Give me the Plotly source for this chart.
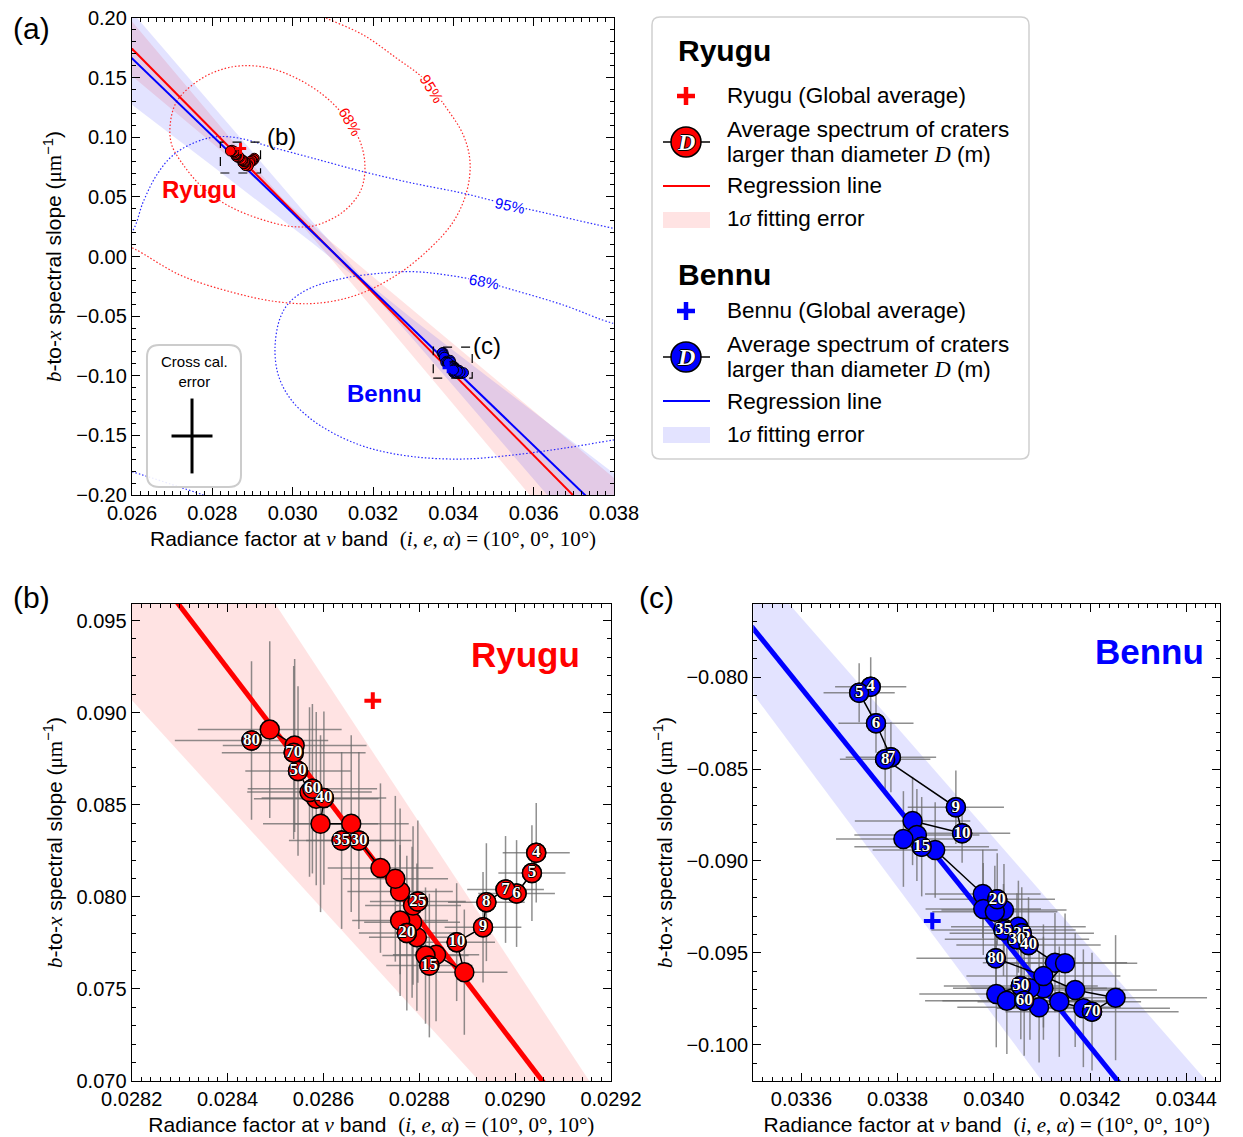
import plotly.graph_objects as go

W, H = 1243, 1137
SANS = "Liberation Sans, Arial, sans-serif"
SERIF = "Liberation Serif, Times New Roman, serif"

# ---------------- data ----------------
# Ryugu: average spectra of craters larger than D (panel b / a)
ryugu_label = ["4", "5", "6", "7", "8", "9", "10", "", "", "", "15", "", "", "", "20", "", "25", "", "", "",
               "30", "35", "", "", "40", "", "60", "", "50", "70", "", "", "80"]
ryugu_x = [0.029044, 0.029035, 0.029003, 0.028980, 0.028940, 0.028933, 0.028878, 0.028894, 0.028835, 0.028813,
           0.028821, 0.028795, 0.028785, 0.028760, 0.028774, 0.028787, 0.028797, 0.028760, 0.028750, 0.028719,
           0.028674, 0.028638, 0.028658, 0.028594, 0.028601, 0.028585, 0.028577, 0.028571, 0.028547, 0.028538,
           0.028540, 0.028488, 0.028450]
ryugu_y = [0.08239, 0.08129, 0.08018, 0.08040, 0.07971, 0.07835, 0.07754, 0.07591, 0.07685, 0.07681,
           0.07627, 0.07781, 0.07862, 0.07871, 0.07803, 0.07953, 0.07974, 0.08029, 0.08098, 0.08156,
           0.08306, 0.08306, 0.08397, 0.08397, 0.08536, 0.08533, 0.08587, 0.08569, 0.08683, 0.08783,
           0.08822, 0.08908, 0.08849]
ryugu_ex = [7e-5, 7e-5, 8e-5, 8e-5, 8e-5, 8e-5, 8e-5, 9e-5, 9e-5, 9e-5,
            9e-5, 1.0e-4, 1.0e-4, 1.0e-4, 1.0e-4, 1.0e-4, 1.0e-4, 1.1e-4, 1.1e-4, 1.1e-4,
            1.1e-4, 1.1e-4, 1.2e-4, 1.2e-4, 1.3e-4, 1.3e-4, 1.35e-4, 1.3e-4, 1.1e-4, 1.5e-4,
            1.5e-4, 1.5e-4, 1.6e-4]
ryugu_ey = [0.0027, 0.0026, 0.0029, 0.0029, 0.0032, 0.0030, 0.0032, 0.0034, 0.0036, 0.0037,
            0.0039, 0.0040, 0.0041, 0.0041, 0.0042, 0.0043, 0.0044, 0.0045, 0.0045, 0.0046,
            0.0048, 0.0048, 0.0048, 0.0048, 0.0047, 0.0047, 0.0046, 0.0046, 0.0046, 0.0047,
            0.0047, 0.0048, 0.0043]

# Bennu (panel c / a)
bennu_label = ["4", "5", "6", "7", "8", "9", "10", "", "", "", "15", "", "", "20", "", "", "", "", "25", "35",
               "30", "40", "", "", "", "", "50", "", "", "60", "", "", "", "70", "", "", "", "80"]
bennu_x = [0.033744, 0.033720, 0.033755, 0.033786, 0.033774, 0.033921, 0.033934, 0.033831, 0.033840, 0.033812,
           0.033850, 0.033878, 0.033977, 0.034007, 0.033978, 0.034021, 0.034002, 0.034051, 0.034058, 0.034020,
           0.034048, 0.034072, 0.034127, 0.034148, 0.034103, 0.034075, 0.034056, 0.034005, 0.034027, 0.034063,
           0.034094, 0.034136, 0.034186, 0.034204, 0.034253, 0.034169, 0.034103, 0.034004]
bennu_y = [-0.080527, -0.080853, -0.082516, -0.084364, -0.084473, -0.087082, -0.088495, -0.087826, -0.088587, -0.088804,
           -0.089223, -0.089402, -0.091793, -0.092082, -0.092609, -0.092663, -0.092755, -0.093571, -0.093930, -0.093750,
           -0.094255, -0.094565, -0.095527, -0.095560, -0.096919, -0.096919, -0.096794, -0.097228, -0.097593, -0.097593,
           -0.097951, -0.097647, -0.098006, -0.098190, -0.097430, -0.097011, -0.096250, -0.095288]
bennu_ex = [7.4e-5, 7.4e-5, 7.8e-5, 9.4e-5, 9.4e-5, 1.0e-4, 1.0e-4, 1.2e-4, 1.3e-4, 1.4e-4,
            1.4e-4, 1.3e-4, 1.2e-4, 1.2e-4, 1.2e-4, 1.3e-4, 1.3e-4, 1.4e-4, 1.5e-4, 1.5e-4,
            1.5e-4, 1.5e-4, 1.5e-4, 1.5e-4, 1.6e-4, 1.6e-4, 1.6e-4, 1.6e-4, 1.7e-4, 1.7e-4,
            1.7e-4, 1.7e-4, 1.8e-4, 1.8e-4, 1.9e-4, 1.7e-4, 1.6e-4, 1.65e-4]
bennu_ey = [0.0016, 0.0016, 0.0016, 0.0019, 0.0019, 0.0020, 0.0016, 0.0024, 0.0025, 0.0026,
            0.0027, 0.0026, 0.0024, 0.0025, 0.0025, 0.0025, 0.0025, 0.0025, 0.0025, 0.0025,
            0.0025, 0.0026, 0.0027, 0.0027, 0.0028, 0.0028, 0.0029, 0.0029, 0.0029, 0.0030,
            0.0030, 0.0030, 0.0032, 0.0032, 0.0034, 0.0031, 0.0028, 0.0020]

# global averages
ryugu_global_x, ryugu_global_y = [0.028703], [0.09065]
bennu_global_x, bennu_global_y = [0.033872], [-0.09326]

# regression lines (slope, intercept)
ryugu_slope, ryugu_intercept = -34.1, 1.06084
bennu_slope, bennu_intercept = -32.47, 1.01038

# 1-sigma fitting-error bands, panel (a)
ryugu_band_a_x = [0.0255, 0.0280, 0.0290, 0.0298, 0.0310, 0.0320, 0.0350, 0.0385]
ryugu_band_a_hi = [0.2171, 0.1170, 0.0771, 0.0467, 0.0112, -0.0170, -0.1015, -0.1998]
ryugu_band_a_lo = [0.1655, 0.0950, 0.0667, 0.0427, -0.0037, -0.0437, -0.1639, -0.3042]
bennu_band_a_x = [0.0255, 0.0280, 0.0305, 0.0318, 0.0330, 0.0350, 0.0385]
bennu_band_a_hi = [0.2246, 0.1267, 0.0290, -0.0202, -0.0529, -0.1046, -0.1948]
bennu_band_a_lo = [0.1402, 0.0758, 0.0111, -0.0242, -0.0694, -0.1475, -0.2846]
# bands in zoomed panels (b), (c)
ryugu_band_b_x = [0.0281, 0.0293]
ryugu_band_b_hi = [0.1117, 0.06426]
ryugu_band_b_lo = [0.09354, 0.0593]
bennu_band_c_x = [0.0334, 0.0346]
bennu_band_c_hi = [-0.07081, -0.10668]
bennu_band_c_lo = [-0.07743, -0.11948]

# probability contours (panel a)
ryugu_c68_x = [0.02695, 0.02711, 0.02761, 0.02819, 0.02877, 0.02944, 0.03010, 0.03076, 0.03126, 0.03168, 0.03180,
               0.03168, 0.03126, 0.03060, 0.03002, 0.02927, 0.02844, 0.02778, 0.02728, 0.02699, 0.02695]
ryugu_c68_y = [0.1103, 0.1298, 0.1466, 0.1564, 0.1600, 0.1578, 0.1494, 0.1354, 0.1187, 0.0963, 0.0740,
               0.0543, 0.0376, 0.0264, 0.0250, 0.0306, 0.0418, 0.0572, 0.0767, 0.0935, 0.1103]
ryugu_c95_x = [0.0302, 0.030847, 0.031758, 0.03259, 0.033252, 0.033835, 0.034248, 0.034415, 0.034332, 0.034000,
               0.033419, 0.03259, 0.031594, 0.030598, 0.029602, 0.02844, 0.027195, 0.026032, 0.0255]
ryugu_c95_y = [0.21, 0.19975, 0.18574, 0.1662, 0.1494, 0.12428, 0.10189, 0.0795, 0.0543, 0.02918,
               0.00688, -0.01551, -0.03229, -0.03924, -0.0379, -0.02952, -0.01551, 0.00688, 0.0140]
bennu_c68_x = [0.0385, 0.037983, 0.036738, 0.035493, 0.034746, 0.033835, 0.033003, 0.032174, 0.031261, 0.030432,
               0.029934, 0.029685, 0.02956, 0.029642, 0.029934, 0.030432, 0.031096, 0.031925, 0.033003, 0.034248,
               0.035493, 0.036738, 0.037983, 0.0385]
bennu_c68_y = [-0.0580, -0.05602, -0.04067, -0.02809, -0.02113, -0.01551, -0.01274, -0.01409, -0.01828, -0.02667,
               -0.0379, -0.05182, -0.07698, -0.09937, -0.11891, -0.13568, -0.14968, -0.16084, -0.16788, -0.16981,
               -0.16646, -0.16084, -0.15388, -0.1510]
bennu_c95_x = [0.0255, 0.026, 0.026281, 0.026615, 0.027028, 0.027611, 0.028109, 0.028689, 0.029436, 0.030514,
               0.031758, 0.033003, 0.034248, 0.035411, 0.036324, 0.037983, 0.0385]
bennu_c95_y = [0.0070, 0.0208, 0.04596, 0.06835, 0.08512, 0.09627, 0.10046, 0.09912, 0.09208, 0.08235,
               0.07111, 0.06139, 0.0530, 0.04319, 0.03623, 0.02365, 0.0205]
bennu_c95b_x = [0.0255, 0.026, 0.027775, 0.0282]
bennu_c95b_y = [-0.1760, -0.18046, -0.2, -0.2050]

# cross-calibration error (panel a inset)
cross_x, cross_y = [0.027494], [-0.1505]
cross_err_x, cross_err_y = 0.00051, 0.0314

# axis ranges
xa_range, ya_range = [0.026, 0.038], [-0.20, 0.20]
xb_range, yb_range = [0.0282, 0.0292], [0.0700, 0.0959]
xc_range, yc_range = [0.0335, 0.03447], [-0.10196, -0.07603]

RED = "#ff0000"
BLUE = "#0000ff"
RED_BAND = "rgba(255,0,0,0.11)"
BLUE_BAND = "rgba(0,0,255,0.11)"
ERR_COL = "rgba(105,105,105,0.75)"
OUTLINE = "-1px 0 0 #000, 1px 0 0 #000, 0 -1px 0 #000, 0 1px 0 #000"

fig = go.Figure()


def add(tr):
    fig.add_trace(tr)


def band(xs, hi, lo, color, xa, ya):
    add(go.Scatter(x=xs + xs[::-1], y=hi + lo[::-1], fill="toself", fillcolor=color,
                   line=dict(width=0), mode="lines", hoverinfo="skip", showlegend=False,
                   xaxis=xa, yaxis=ya))


def regline(slope, intercept, x0, x1, color, width, xa, ya):
    xs = [x0, x1]
    add(go.Scatter(x=xs, y=[intercept + slope * v for v in xs], mode="lines",
                   line=dict(color=color, width=width), showlegend=False, xaxis=xa, yaxis=ya))


def labels_only(lbl, xs, ys):
    keep = [i for i, s in enumerate(lbl) if s]
    return [lbl[i] for i in keep], [xs[i] for i in keep], [ys[i] for i in keep]


# ---------------- panel (a) ----------------
band(ryugu_band_a_x, ryugu_band_a_hi, ryugu_band_a_lo, RED_BAND, "x", "y")
band(bennu_band_a_x, bennu_band_a_hi, bennu_band_a_lo, BLUE_BAND, "x", "y")
for cx, cy, col in [(ryugu_c68_x, ryugu_c68_y, "rgba(255,30,30,0.95)"),
                    (ryugu_c95_x, ryugu_c95_y, "rgba(255,30,30,0.95)"),
                    (bennu_c68_x, bennu_c68_y, "rgba(30,30,255,0.95)"),
                    (bennu_c95_x, bennu_c95_y, "rgba(30,30,255,0.95)"),
                    (bennu_c95b_x, bennu_c95b_y, "rgba(30,30,255,0.95)")]:
    add(go.Scatter(x=cx, y=cy, mode="lines", line=dict(color=col, width=1.2, dash="1.5px,2px", shape="spline"),
                   showlegend=False, xaxis="x", yaxis="y"))
regline(ryugu_slope, ryugu_intercept, 0.0255, 0.0385, RED, 2, "x", "y")
regline(bennu_slope, bennu_intercept, 0.0255, 0.0385, BLUE, 2, "x", "y")
for xs, ys, col in [(ryugu_x, ryugu_y, RED), (bennu_x, bennu_y, BLUE)]:
    add(go.Scatter(x=xs, y=ys, mode="lines+markers", line=dict(color="black", width=1),
                   marker=dict(size=10, color=col, line=dict(color="black", width=1)),
                   showlegend=False, xaxis="x", yaxis="y"))
add(go.Scatter(x=ryugu_global_x, y=ryugu_global_y, mode="markers",
               marker=dict(symbol="cross-thin", size=8, line=dict(color=RED, width=3)),
               showlegend=False, xaxis="x", yaxis="y"))
add(go.Scatter(x=bennu_global_x, y=bennu_global_y, mode="markers",
               marker=dict(symbol="cross-thin", size=8, line=dict(color=BLUE, width=3)),
               showlegend=False, xaxis="x", yaxis="y"))

LABEL_FONT = dict(family=SERIF, size=17, color="white", weight="bold", shadow=OUTLINE)


def zoom_panel(lbl, xs, ys, ex, ey, col, bx, bhi, blo, bcol, slope, icpt, x0, x1, gx, gy, xa, ya):
    band(bx, bhi, blo, bcol, xa, ya)
    add(go.Scatter(x=xs, y=ys, mode="markers", marker=dict(size=1, color="rgba(0,0,0,0)"),
                   error_x=dict(array=ex, color=ERR_COL, thickness=1.5, width=0),
                   error_y=dict(array=ey, color=ERR_COL, thickness=1.5, width=0),
                   showlegend=False, xaxis=xa, yaxis=ya))
    regline(slope, icpt, x0, x1, col, 5, xa, ya)
    add(go.Scatter(x=xs, y=ys, mode="lines+markers", line=dict(color="black", width=1.5),
                   marker=dict(size=19, color=col, line=dict(color="black", width=1.5)),
                   showlegend=False, xaxis=xa, yaxis=ya))
    tl, tx, ty = labels_only(lbl, xs, ys)
    add(go.Scatter(x=tx, y=ty, mode="markers+text", text=tl, textposition="middle center", textfont=LABEL_FONT,
                   marker=dict(size=19, color=col, line=dict(color="black", width=1.5)),
                   showlegend=False, xaxis=xa, yaxis=ya))
    add(go.Scatter(x=gx, y=gy, mode="markers",
                   marker=dict(symbol="cross-thin", size=12, line=dict(color=col, width=4)),
                   showlegend=False, xaxis=xa, yaxis=ya))


zoom_panel(ryugu_label, ryugu_x, ryugu_y, ryugu_ex, ryugu_ey, RED, ryugu_band_b_x, ryugu_band_b_hi,
           ryugu_band_b_lo, RED_BAND, ryugu_slope, ryugu_intercept, 0.0281, 0.0293,
           ryugu_global_x, ryugu_global_y, "x2", "y2")
zoom_panel(bennu_label, bennu_x, bennu_y, bennu_ex, bennu_ey, BLUE, bennu_band_c_x, bennu_band_c_hi,
           bennu_band_c_lo, BLUE_BAND, bennu_slope, bennu_intercept, 0.0334, 0.0346,
           bennu_global_x, bennu_global_y, "x3", "y3")


# ---------------- axes ----------------
def axis(domain, rng, dtick, tick0, minor_dtick, fmt, anchor, title, standoff):
    return dict(domain=domain, range=rng, tickmode="linear", dtick=dtick, tick0=tick0,
                tickformat=fmt, anchor=anchor, showline=True, linecolor="black", linewidth=1.3,
                mirror="ticks", ticks="inside", ticklen=8, tickwidth=1.3, tickcolor="black",
                minor=dict(ticks="inside", ticklen=4, tickwidth=1, tickcolor="black", dtick=minor_dtick),
                showgrid=False, zeroline=False, automargin=False,
                tickfont=dict(family=SANS, size=20, color="black"),
                title=dict(text=title, font=dict(family=SANS, size=21, color="black"), standoff=standoff))


XT = ('Radiance factor at <i><span style="font-family:Liberation Serif">v</span></i> band  '
      '<span style="font-family:Liberation Serif">(<i>i</i>, <i>e</i>, <i>α</i>) = (10°, 0°, 10°)</span>')
YT = ('<i><span style="font-family:Liberation Serif">b</span></i>-to-<i><span style="font-family:Liberation Serif">x</span></i>'
      ' spectral slope (<span style="font-family:Liberation Serif">μm</span><sup>−1</sup>)')

fig.update_layout(
    width=W, height=H, margin=dict(l=0, r=0, t=0, b=0),
    paper_bgcolor="white", plot_bgcolor="white", showlegend=False,
    xaxis=axis([132 / W, 614 / W], xa_range, 0.002, 0.026, 0.0002, ".3f", "y", XT, 8),
    yaxis=axis([1 - 495 / H, 1 - 18 / H], ya_range, 0.05, -0.2, 0.01, ".2f", "x", YT, 8),
    xaxis2=axis([131.7 / W, 611 / W], xb_range, 0.0002, 0.0282, 0.00002, ".4f", "y2", XT, 8),
    yaxis2=axis([1 - 1081 / H, 1 - 604 / H], yb_range, 0.005, 0.07, 0.001, ".3f", "x2", YT, 8),
    xaxis3=axis([753.3 / W, 1220 / W], xc_range, 0.0002, 0.0336, 0.00002, ".4f", "y3", XT, 8),
    yaxis3=axis([1 - 1081 / H, 1 - 604 / H], yc_range, 0.005, -0.1, 0.001, ".3f", "x3", YT, 8),
)


def rrect(x0, y0, x1, y1, rx, ry):
    return (f"M{x0 + rx},{y0} L{x1 - rx},{y0} Q{x1},{y0} {x1},{y0 + ry} L{x1},{y1 - ry} "
            f"Q{x1},{y1} {x1 - rx},{y1} L{x0 + rx},{y1} Q{x0},{y1} {x0},{y1 - ry} "
            f"L{x0},{y0 + ry} Q{x0},{y0} {x0 + rx},{y0} Z")


def px(v):
    return v / W


def py(v):
    return 1 - v / H


shapes = []
# zoom boxes in (a)
for (xr, yr) in [(xb_range, yb_range), (xc_range, yc_range)]:
    shapes.append(dict(type="rect", xref="x", yref="y", x0=xr[0], x1=xr[1], y0=yr[0], y1=yr[1],
                       line=dict(color="black", width=1.2, dash="dash"), layer="above"))
# cross-cal box + cross
shapes.append(dict(type="path", xref="x", yref="y",
                   path=rrect(0.026373, -0.19329, 0.028714, -0.07421, 0.0003, 0.010),
                   line=dict(color="#cccccc", width=2), fillcolor="rgba(255,255,255,0.9)", layer="above"))
shapes.append(dict(type="line", xref="x", yref="y", x0=cross_x[0] - cross_err_x, x1=cross_x[0] + cross_err_x,
                   y0=cross_y[0], y1=cross_y[0], line=dict(color="black", width=3), layer="above"))
shapes.append(dict(type="line", xref="x", yref="y", x0=cross_x[0], x1=cross_x[0],
                   y0=cross_y[0] - cross_err_y, y1=cross_y[0] + cross_err_y, line=dict(color="black", width=3),
                   layer="above"))

# legend box
shapes.append(dict(type="path", xref="paper", yref="paper",
                   path=rrect(px(652), py(459), px(1029), py(17), 8 / W, 8 / H),
                   line=dict(color="#d0d0d0", width=1.5), fillcolor="white", layer="above"))
for base, col, bandcol in [(0, RED, RED_BAND), (215, BLUE, BLUE_BAND)]:
    cyp = 96 + base
    shapes.append(dict(type="line", xref="paper", yref="paper", x0=px(677), x1=px(695), y0=py(cyp), y1=py(cyp),
                       line=dict(color=col, width=4.5)))
    shapes.append(dict(type="line", xref="paper", yref="paper", x0=px(686), x1=px(686), y0=py(cyp - 9),
                       y1=py(cyp + 9), line=dict(color=col, width=4.5)))
    cyc = 142 + base
    shapes.append(dict(type="line", xref="paper", yref="paper", x0=px(663), x1=px(710), y0=py(cyc), y1=py(cyc),
                       line=dict(color="black", width=1.5)))
    shapes.append(dict(type="circle", xref="paper", yref="paper", x0=px(671), x1=px(701), y0=py(cyc + 15),
                       y1=py(cyc - 15), fillcolor=col, line=dict(color="black", width=1.5)))
    cyl = 186 + base
    shapes.append(dict(type="line", xref="paper", yref="paper", x0=px(663), x1=px(710), y0=py(cyl), y1=py(cyl),
                       line=dict(color=col, width=2)))
    shapes.append(dict(type="rect", xref="paper", yref="paper", x0=px(663), x1=px(710), y0=py(228 + base),
                       y1=py(212 + base), fillcolor=bandcol, line=dict(width=0)))

ann = []


def text(x, y, s, size, color="black", xref="paper", yref="paper", xanchor="center", bold=False,
         family=SANS, angle=0, bg=None, **kw):
    d = dict(x=x, y=y, xref=xref, yref=yref, text=s, showarrow=False, xanchor=xanchor, yanchor="middle",
             font=dict(family=family, size=size, color=color, weight="bold" if bold else "normal"),
             textangle=angle)
    if bg:
        d.update(bgcolor=bg, borderpad=0)
    d.update(kw)
    ann.append(d)


# panel labels
text(px(31), py(28), "(a)", 30)
text(px(31), py(597), "(b)", 30)
text(px(656), py(597), "(c)", 30)
# panel (a) texts
text(0.027668, 0.0566, "Ryugu", 24, RED, "x", "y", bold=True)
text(0.032274, -0.1145, "Bennu", 24, BLUE, "x", "y", bold=True)
text(0.029311, 0.1010, "(b)", 24, "black", "x", "y", xanchor="left")
text(0.03444, -0.0750, "(c)", 24, "black", "x", "y", xanchor="left")
text(0.027568, -0.0968, "Cross cal.<br>error", 15, "black", "x", "y")
text(0.031427, 0.11304, "68%", 15, RED, "x", "y", angle=60, bg="white")
text(0.033461, 0.14105, "95%", 15, RED, "x", "y", angle=58, bg="white")
text(0.035411, 0.04319, "95%", 15, BLUE, "x", "y", angle=12, bg="white")
text(0.034763, -0.02113, "68%", 15, BLUE, "x", "y", angle=10, bg="white")
# panel (b), (c) titles
text(0.029021, 0.093152, "Ryugu", 35, RED, "x2", "y2", bold=True)
text(0.034323, -0.078587, "Bennu", 35, BLUE, "x3", "y3", bold=True)

# legend texts
SIG = '1<i><span style="font-family:Liberation Serif">σ</span></i> fitting error'
DTX = 'larger than diameter <i><span style="font-family:Liberation Serif">D</span></i> (m)'
LF = 22.5
for base, name in [(0, "Ryugu"), (215, "Bennu")]:
    text(px(676), py(51 + base + (8 if base else 0)), name, 30, bold=True, xanchor="left")
    text(px(725), py(96 + base), f"{name} (Global average)", LF, xanchor="left")
    text(px(725), py(129 + base), "Average spectrum of craters", LF, xanchor="left")
    text(px(725), py(154 + base), DTX, LF, xanchor="left")
    text(px(725), py(186 + base), "Regression line", LF, xanchor="left")
    text(px(725), py(219 + base), SIG, LF, xanchor="left")
    ann.append(dict(x=px(686), y=py(142 + base), xref="paper", yref="paper", text="<i>D</i>", showarrow=False,
                    xanchor="center", yanchor="middle",
                    font=dict(family=SERIF, size=24, color="white", weight="bold", shadow=OUTLINE)))

fig.update_layout(shapes=shapes, annotations=ann)
fig.write_html("out.html")
